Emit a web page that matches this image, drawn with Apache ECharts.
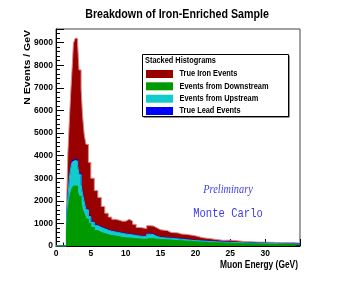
<!DOCTYPE html>
<html>
<head>
<meta charset="utf-8">
<script src="https://cdn.jsdelivr.net/npm/echarts@6/dist/echarts.min.js"></script>
<style>html,body{margin:0;padding:0;background:#fff;}#c{width:354px;height:293px;}</style>
</head>
<body>
<div id="c"></div>
<script>
// Bin edges (GeV) of the stacked histograms
const binEdges = [0,1.5,1.7,1.95,2.15,2.3,2.5,2.75,3.1,3.3,3.6,3.8,4.05,4.3,4.65,5,5.5,6,6.5,7,7.5,8,8.5,9,9.5,10,10.5,11,11.5,12,12.5,13,13.5,14,14.5,15,15.5,16,16.5,17,17.5,18,18.5,19,19.5,20,21,22,23,24,25,26,27,28,29,30,31,32,33,34,35];
// Per-bin contents (N Events / GeV), one array per stacked component
const downstream = [0,700,1500,2150,2400,2550,2650,2650,2400,2200,1900,1600,1450,1200,1000,820,680,600,550,500,460,440,420,380,360,350,340,320,310,300,300,330,320,300,290,280,270,260,250,240,230,220,210,200,190,170,150,140,130,120,110,100,95,90,85,80,75,70,65,60];
const upstream = [0,350,650,950,1100,1150,1130,1100,1150,950,800,700,500,400,300,230,220,220,210,200,190,180,170,180,170,160,150,140,130,120,130,190,180,120,90,80,80,80,80,70,70,60,60,50,50,50,50,45,40,40,40,40,35,30,30,30,25,25,25,25];
const lead = [0,20,40,50,60,60,60,60,60,50,45,40,35,30,30,30,25,25,25,20,20,20,20,20,20,20,20,20,15,15,15,20,20,15,15,15,15,15,15,15,15,15,15,15,15,15,15,15,15,15,10,10,10,10,10,10,10,10,10,10];
const iron = [0,550,1900,2650,3440,4040,5130,5380,5360,4590,4240,3468,2941,2870,2370,1920,1525,1305,965,730,610,540,540,520,550,650,590,480,365,365,325,360,360,365,325,325,315,245,245,255,215,225,215,215,195,135,115,90,65,85,70,50,50,40,45,40,40,45,40,35];
const seriesNames = ['True Iron Events','Events from Downstream','Events from Upstream','True Lead Events'];
const seriesColors = ['#990000','#009900','#12cccc','#0000ff'];
const xTicks = [0,5,10,15,20,25,30];
const yTicks = [0,1000,2000,3000,4000,5000,6000,7000,8000,9000];

const SANS = "'Liberation Sans',Arial,Helvetica,sans-serif";
const SQ = 0.82; // horizontal squeeze of the original picture's text

// cumulative stacking (bottom: downstream, upstream, lead, iron)
const cumDown = downstream.slice();
const cumUp = cumDown.map((v,i)=>v+upstream[i]);
const cumLead = cumUp.map((v,i)=>v+lead[i]);
const cumIron = cumLead.map((v,i)=>v+iron[i]);

function stepData(vals){
  const d = vals.map((v,i)=>[binEdges[i], v]);
  d.push([binEdges[binEdges.length-1], vals[vals.length-1]]);
  return d;
}
function histSeries(name, vals, color, lineColor){
  return {
    name: name, type:'line', step:'end', data: stepData(vals),
    showSymbol:false, symbol:'none', silent:true, animation:false,
    lineStyle:{color: lineColor || color, width: 1},
    areaStyle:{color: color, opacity:1, origin:'start'},
    itemStyle:{color: color}
  };
}
function txt(x, y, text, size, align, extra){
  return Object.assign({type:'text', z:7, x:x, y:y, scaleX:SQ,
    style:{text:text, fontFamily:SANS, fontWeight:'bold', fontSize:size, fill:'#000', textAlign:align, textVerticalAlign:'middle'}}, extra||{});
}

const legendY = [74, 86.3, 98.7, 111];
const legendGraphics = [];
seriesNames.forEach((n,i)=>{
  legendGraphics.push({type:'rect', z:7, shape:{x:146, y:legendY[i]-4, width:27, height:8}, style:{fill:seriesColors[i]}});
  legendGraphics.push(txt(179.5, legendY[i], n, 9, 'left'));
});

const chart = echarts.init(document.getElementById('c'), null, {renderer:'canvas'});
chart.setOption({
  animation:false,
  backgroundColor:'#fff',
  grid:{left:56, right:54, top:29, bottom:47, show:true, borderColor:'#444', borderWidth:1, backgroundColor:'transparent'},
  xAxis:{
    type:'value', min:0, max:35, interval:5,
    axisLine:{show:true, lineStyle:{color:'#000', width:1}},
    axisTick:{show:true, inside:true, length:7, lineStyle:{color:'#000'}},
    minorTick:{show:true, splitNumber:5, length:3.5, lineStyle:{color:'#000'}},
    splitLine:{show:false},
    axisLabel:{margin:3, color:'#000', fontFamily:SANS, fontWeight:'bold', fontSize:8.5,
      formatter:v=> xTicks.indexOf(v)>=0 ? String(v) : ''}
  },
  yAxis:{
    type:'value', min:0, max:9600, interval:1000,
    axisLine:{show:true, lineStyle:{color:'#000', width:1}},
    axisTick:{show:true, inside:true, length:8, lineStyle:{color:'#000'}},
    minorTick:{show:true, splitNumber:5, length:4, lineStyle:{color:'#000'}},
    splitLine:{show:false},
    axisLabel:{margin:3, color:'#000', fontFamily:SANS, fontWeight:'bold', fontSize:8.5,
      formatter:v=> yTicks.indexOf(v)>=0 ? String(v) : ''}
  },
  series:[
    histSeries(seriesNames[0], cumIron, seriesColors[0], '#d88a8a'),
    histSeries(seriesNames[3], cumLead, seriesColors[3]),
    histSeries(seriesNames[2], cumUp, seriesColors[2]),
    histSeries(seriesNames[1], cumDown, seriesColors[1])
  ],
  graphic:[
    txt(177, 14.7, 'Breakdown of Iron-Enriched Sample', 13, 'center'),
    {type:'rect', z:5, shape:{x:143.5, y:55.5, width:146, height:62}, style:{fill:'#222'}},
    {type:'rect', z:6, shape:{x:142.5, y:54.5, width:146, height:62}, style:{fill:'#fff', stroke:'#000', lineWidth:1}},
    txt(145, 61, 'Stacked Histograms', 9, 'left'),
    {type:'text', z:7, x:27.5, y:30, rotation:Math.PI/2, scaleY:0.85,
      style:{text:'N Events / GeV', fontFamily:SANS, fontWeight:'bold', fontSize:10.5, fill:'#000', textAlign:'right', textVerticalAlign:'middle'}},
    txt(298, 265, 'Muon Energy (GeV)', 10, 'right', {scaleX:0.84}),
    {type:'text', z:7, x:228, y:190, scaleX:0.86, style:{text:'Preliminary', fontFamily:"'Liberation Serif','Times New Roman',serif", fontStyle:'italic', fontSize:12, fill:'#3c3cf0', textAlign:'center', textVerticalAlign:'middle'}},
    {type:'text', z:7, x:228, y:214, scaleX:0.88, style:{text:'Monte Carlo', fontFamily:"'Liberation Mono','DejaVu Sans Mono',monospace", fontSize:12, fill:'#3c3cf0', textAlign:'center', textVerticalAlign:'middle'}}
  ].concat(legendGraphics)
});
</script>
</body>
</html>
